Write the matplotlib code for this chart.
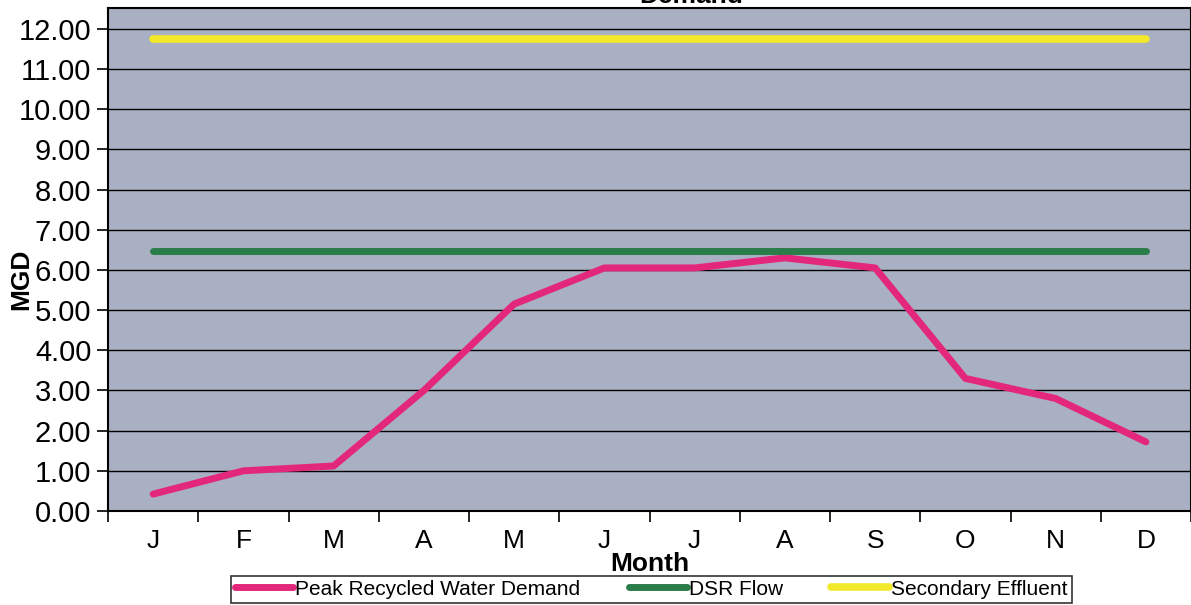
import numpy as np
import matplotlib
matplotlib.use('Agg')
from matplotlib import pyplot as plt

plt.rcParams['font.family'] = ['Liberation Sans', 'DejaVu Sans']

months = ['J', 'F', 'M', 'A', 'M', 'J', 'J', 'A', 'S', 'O', 'N', 'D']
peak_demand = [0.42, 1.00, 1.12, 3.00, 5.15, 6.05, 6.05, 6.30, 6.05, 3.30, 2.80, 1.72]
dsr_flow = [6.47] * 12
secondary_effluent = [11.75] * 12
y_ticks = np.arange(0, 13, 1)


def main():
    fig = plt.figure(figsize=(11.91, 6.05), dpi=100)
    ax = fig.add_axes([0.0907, 0.1554, 0.9093, 0.8314])
    ax.set_facecolor('#aab0c3')

    x = np.arange(len(months))
    ax.plot(x, peak_demand, color='#e3287c', linewidth=5, solid_capstyle='round',
            solid_joinstyle='round', label='Peak Recycled Water Demand', zorder=3)
    ax.plot(x, dsr_flow, color='#2a7d48', linewidth=5, solid_capstyle='round',
            label='DSR Flow', zorder=3)
    ax.plot(x, secondary_effluent, color='#f2e92a', linewidth=5.5, solid_capstyle='round',
            label='Secondary Effluent', zorder=3)

    ax.set_xlim(-0.5, len(months) - 0.5)
    ax.set_ylim(0, 12.52)
    ax.set_yticks(y_ticks)
    ax.set_yticklabels([f'{v:.2f}' for v in y_ticks], fontsize=21)
    ax.yaxis.grid(True, color='black', linewidth=1.0)
    ax.set_axisbelow(True)

    ax.set_xticks(np.arange(-0.5, len(months), 1))
    ax.set_xticklabels([])
    ax.set_xticks(x, minor=True)
    ax.set_xticklabels(months, minor=True, fontsize=19)
    ax.tick_params(axis='x', which='major', direction='out', length=8, width=1.2)
    ax.tick_params(axis='x', which='minor', length=0, pad=13)
    ax.tick_params(axis='y', direction='out', length=8, width=1.2, pad=4)

    for side in ['top', 'right', 'left', 'bottom']:
        ax.spines[side].set_color('black')
        ax.spines[side].set_linewidth(1.5)

    ax.set_xlabel('Month', fontsize=19, fontweight='bold', labelpad=-1)
    ax.set_ylabel('MGD', fontsize=19, fontweight='bold')
    ax.yaxis.set_label_coords(-0.069, 0.46)

    fig.text(0.58, 1.006, 'Demand', ha='center', va='center', fontsize=19, fontweight='bold')

    leg = fig.legend(loc='lower center', bbox_to_anchor=(0.547, 0.0), ncol=3, fontsize=15,
                     frameon=True, fancybox=False, edgecolor='black', handlelength=2.8,
                     handletextpad=0.1, columnspacing=2.3, borderpad=0.2, borderaxespad=0.1)
    leg.get_frame().set_linewidth(1.2)

    fig.savefig('out.png', dpi=100)


if __name__ == '__main__':
    main()
